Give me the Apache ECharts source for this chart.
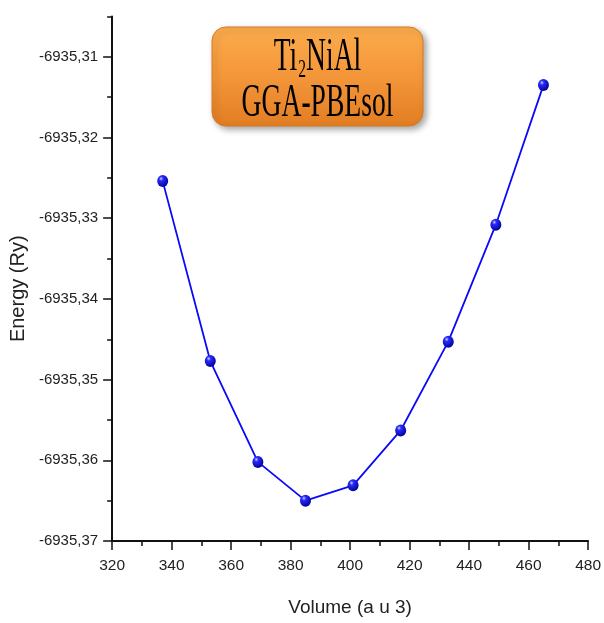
<!DOCTYPE html>
<html>
<head>
<meta charset="utf-8">
<title>Ti2NiAl GGA-PBEsol</title>
<script src="https://cdn.jsdelivr.net/npm/echarts@6/dist/echarts.min.js"></script>
<style>
  html, body { margin: 0; padding: 0; background: #ffffff; }
  #chart { width: 604px; height: 623px; }
</style>
</head>
<body>
<div id="chart"></div>
<script>
// Energy vs. volume curve for Ti2NiAl (GGA-PBEsol)
const volumes = [337, 353, 369, 385, 401, 417, 433, 449, 465];
const energies = [
  -6935.3254, -6935.3477, -6935.3602, -6935.3650, -6935.3631,
  -6935.3563, -6935.3453, -6935.3308, -6935.3135
];
const yTicks = [-6935.37, -6935.36, -6935.35, -6935.34, -6935.33, -6935.32, -6935.31];
const yMinorTicks = [-6935.365, -6935.355, -6935.345, -6935.335, -6935.325, -6935.315, -6935.305];
const xTicks = [320, 340, 360, 380, 400, 420, 440, 460, 480];

const AXIS_COLOR = '#111111';
const LABEL_COLOR = '#222222';
const SANS = 'Liberation Sans, Arial, sans-serif';
const SERIF = 'Liberation Serif, Times New Roman, serif';

const fmtY = v => Number(v).toFixed(2).replace('.', ',');

const chart = echarts.init(document.getElementById('chart'), null, { renderer: 'canvas' });

const sphere = {
  type: 'radial', x: 0.36, y: 0.3, r: 0.75,
  colorStops: [
    { offset: 0, color: '#d0d4ff' },
    { offset: 0.25, color: '#2a2aff' },
    { offset: 1, color: '#00008c' }
  ]
};

const serifText = (x, y, text, size, align) => ({
  type: 'text', x: x, y: y, z: 101,
  style: { text: text, fontFamily: SERIF, fontSize: size, fill: '#000000', align: align, verticalAlign: 'middle' }
});

chart.setOption({
  backgroundColor: '#ffffff',
  animation: false,
  grid: { left: 109, right: 14, top: 16.5, bottom: 82, containLabel: false },
  xAxis: {
    type: 'value',
    min: xTicks[0],
    max: xTicks[xTicks.length - 1],
    interval: 20,
    name: 'Volume (a u 3)',
    nameLocation: 'middle',
    nameGap: 57,
    nameTextStyle: { fontFamily: SANS, fontSize: 19, color: LABEL_COLOR },
    axisLine: { show: true, onZero: false, lineStyle: { color: AXIS_COLOR, width: 2 } },
    axisTick: { show: true, inside: false, length: 9, lineStyle: { color: AXIS_COLOR, width: 1.5 } },
    minorTick: { show: true, splitNumber: 2, length: 5, lineStyle: { color: AXIS_COLOR, width: 1.5 } },
    axisLabel: {
      margin: 17, fontFamily: SANS, fontSize: 15.5, color: LABEL_COLOR,
      customValues: xTicks
    },
    splitLine: { show: false }
  },
  yAxis: [
    {
      type: 'value',
      min: yTicks[0],
      max: yMinorTicks[yMinorTicks.length - 1],
      name: 'Energy (Ry)',
      nameLocation: 'middle',
      nameRotate: 90,
      nameGap: 79,
      nameTextStyle: { fontFamily: SANS, fontSize: 20, color: LABEL_COLOR, padding: [0, 20, 0, 0] },
      axisLine: { show: true, onZero: false, lineStyle: { color: AXIS_COLOR, width: 2 } },
      axisTick: {
        show: true, inside: false, length: 9,
        customValues: yTicks,
        lineStyle: { color: AXIS_COLOR, width: 1.5 }
      },
      axisLabel: {
        margin: 14, fontFamily: SANS, fontSize: 15, color: LABEL_COLOR,
        customValues: yTicks,
        formatter: fmtY
      },
      splitLine: { show: false }
    },
    {
      // minor ticks on the energy axis, half-way between labelled ticks
      type: 'value',
      position: 'left',
      min: yTicks[0],
      max: yMinorTicks[yMinorTicks.length - 1],
      axisLine: { show: false },
      axisTick: {
        show: true, inside: false, length: 5,
        customValues: yMinorTicks,
        lineStyle: { color: AXIS_COLOR, width: 1.5 }
      },
      axisLabel: { show: false },
      splitLine: { show: false }
    }
  ],
  series: [{
    type: 'line',
    yAxisIndex: 0,
    data: volumes.map((v, i) => [v, energies[i]]),
    symbol: 'circle',
    symbolSize: [11, 12],
    showAllSymbol: true,
    lineStyle: { color: '#0a0af8', width: 1.8 },
    itemStyle: { color: sphere, borderWidth: 0 },
    z: 3
  }],
  graphic: [
    {
      type: 'rect',
      z: 100,
      shape: { x: 212, y: 27, width: 211, height: 99, r: 14 },
      style: {
        fill: {
          type: 'linear', x: 0, y: 0, x2: 0, y2: 1,
          colorStops: [
            { offset: 0, color: '#fbac4c' },
            { offset: 0.5, color: '#f4963a' },
            { offset: 1, color: '#e27d22' }
          ]
        },
        stroke: '#d77a22',
        lineWidth: 1,
        shadowBlur: 6,
        shadowOffsetX: 3,
        shadowOffsetY: 3,
        shadowColor: 'rgba(0,0,0,0.35)'
      }
    },
    {
      // label lines, condensed horizontally
      type: 'group',
      x: 317.5,
      y: 0,
      scaleX: 0.6,
      z: 101,
      children: [
        serifText(-72.95, 58, 'Ti', 46, 'left'),
        serifText(-32.05, 70, '2', 26, 'left'),
        serifText(-19.05, 58, 'NiAl', 46, 'left'),
        serifText(0, 103.5, 'GGA-PBEsol', 46, 'center')
      ]
    }
  ]
});
</script>
</body>
</html>
